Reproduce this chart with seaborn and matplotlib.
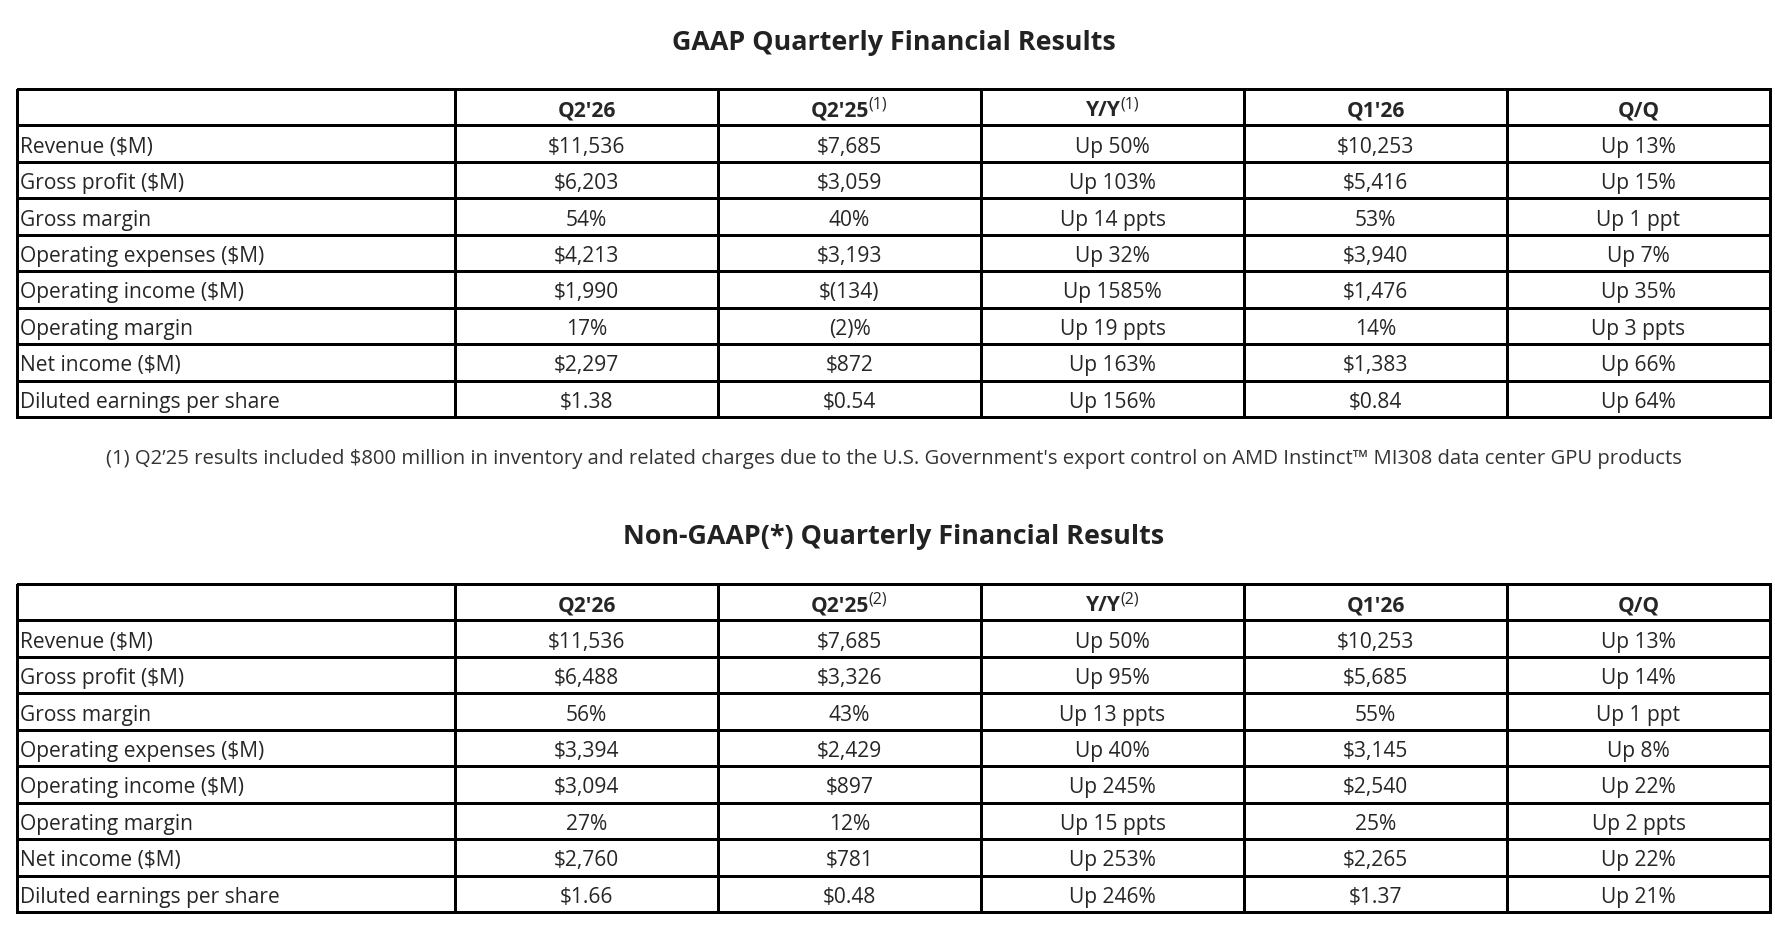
import numpy as np
import matplotlib
matplotlib.use("Agg")
import matplotlib.pyplot as plt
from matplotlib.colors import ListedColormap
import seaborn as sns

# table contents
row_labels = ["Revenue ($M)", "Gross profit ($M)", "Gross margin",
              "Operating expenses ($M)", "Operating income ($M)",
              "Operating margin", "Net income ($M)", "Diluted earnings per share"]
col_heads = ["Q2'26", "Q2'25", "Y/Y", "Q1'26", "Q/Q"]
gaap_notes = ["", "(1)", "(1)", "", ""]
nongaap_notes = ["", "(2)", "(2)", "", ""]

gaap_q2_26 = ["$11,536", "$6,203", "54%", "$4,213", "$1,990", "17%", "$2,297", "$1.38"]
gaap_q2_25 = ["$7,685", "$3,059", "40%", "$3,193", "$(134)", "(2)%", "$872", "$0.54"]
gaap_yy = ["Up 50%", "Up 103%", "Up 14 ppts", "Up 32%", "Up 1585%", "Up 19 ppts", "Up 163%", "Up 156%"]
gaap_q1_26 = ["$10,253", "$5,416", "53%", "$3,940", "$1,476", "14%", "$1,383", "$0.84"]
gaap_qq = ["Up 13%", "Up 15%", "Up 1 ppt", "Up 7%", "Up 35%", "Up 3 ppts", "Up 66%", "Up 64%"]

ng_q2_26 = ["$11,536", "$6,488", "56%", "$3,394", "$3,094", "27%", "$2,760", "$1.66"]
ng_q2_25 = ["$7,685", "$3,326", "43%", "$2,429", "$897", "12%", "$781", "$0.48"]
ng_yy = ["Up 50%", "Up 95%", "Up 13 ppts", "Up 40%", "Up 245%", "Up 15 ppts", "Up 253%", "Up 246%"]
ng_q1_26 = ["$10,253", "$5,685", "55%", "$3,145", "$2,540", "25%", "$2,265", "$1.37"]
ng_qq = ["Up 13%", "Up 14%", "Up 1 ppt", "Up 8%", "Up 22%", "Up 2 ppts", "Up 22%", "Up 21%"]

title_gaap = "GAAP Quarterly Financial Results"
title_nongaap = "Non-GAAP(*) Quarterly Financial Results"
footnote = ("(1) Q2\u201925 results included $800 million in inventory and related charges "
            "due to the U.S. Government's export control on AMD Instinct\u2122 MI308 data center GPU products")

sns.set_theme(style="white")
plt.rcParams["font.family"] = ["Open Sans", "DejaVu Sans"]
plt.rcParams["text.parse_math"] = False

TXT = "#262626"
W, H = 1775, 929
fig = plt.figure(figsize=(W / 100, H / 100), dpi=100)
white = ListedColormap(["white"])


def px_axes(x0, y0, x1, y1):
    return fig.add_axes([x0 / W, 1 - y1 / H, (x1 - x0) / W, (y1 - y0) / H])


def draw_table(top, bottom, columns, notes):
    nrows = len(row_labels) + 1
    ax_lab = px_axes(17, top, 455, bottom)
    ax_val = px_axes(455, top, 1770, bottom)
    for ax, ncol in [(ax_lab, 1), (ax_val, len(col_heads))]:
        sns.heatmap(np.zeros((nrows, ncol)), ax=ax, cmap=white, cbar=False,
                    linewidths=1.9, linecolor="black", xticklabels=False,
                    yticklabels=False)
        for c in ax.collections:
            c.set_clip_on(False)
        ax.set_xlim(0, ncol)
        ax.set_ylim(nrows, 0)
    # row labels
    for i, lab in enumerate(row_labels):
        ax_lab.text(0.006, i + 1.5, lab, ha="left", va="center_baseline",
                    fontsize=15.1, color=TXT)
    # header
    fig.canvas.draw()
    rend = fig.canvas.get_renderer()
    colw_px = ax_val.get_window_extent().width / len(col_heads)
    for j, (head, note) in enumerate(zip(col_heads, notes)):
        t = ax_val.text(j + 0.5, 0.5, head, ha="center", va="center_baseline",
                        fontsize=15.1, fontweight="bold", color=TXT)
        if note:
            s = ax_val.annotate(note, xy=(1, 1), xycoords=t, xytext=(-0.5, 2.5),
                                textcoords="offset points", ha="left", va="top",
                                fontsize=11.5, color=TXT)
            sw = s.get_window_extent(rend).width
            t.set_x(j + 0.5 - (sw / 2) / colw_px)
    # values
    for j, col in enumerate(columns):
        for i, v in enumerate(col):
            ax_val.text(j + 0.5, i + 1.5, v, ha="center", va="center_baseline",
                        fontsize=15.1, color=TXT)


draw_table(90, 418, [gaap_q2_26, gaap_q2_25, gaap_yy, gaap_q1_26, gaap_qq], gaap_notes)
draw_table(585, 913, [ng_q2_26, ng_q2_25, ng_yy, ng_q1_26, ng_qq], nongaap_notes)

cx = 893.5 / W
fig.text(cx, 1 - 42.5 / H, title_gaap, ha="center", va="center",
         fontsize=19.4, fontweight="bold", color="#222222")
fig.text(cx, 1 - 537.5 / H, title_nongaap, ha="center", va="center",
         fontsize=19.4, fontweight="bold", color="#222222")
fig.text(cx, 1 - 459 / H, footnote, ha="center", va="center",
         fontsize=14.6, color="#333333")

fig.savefig("out.png", dpi=100, facecolor="white")
